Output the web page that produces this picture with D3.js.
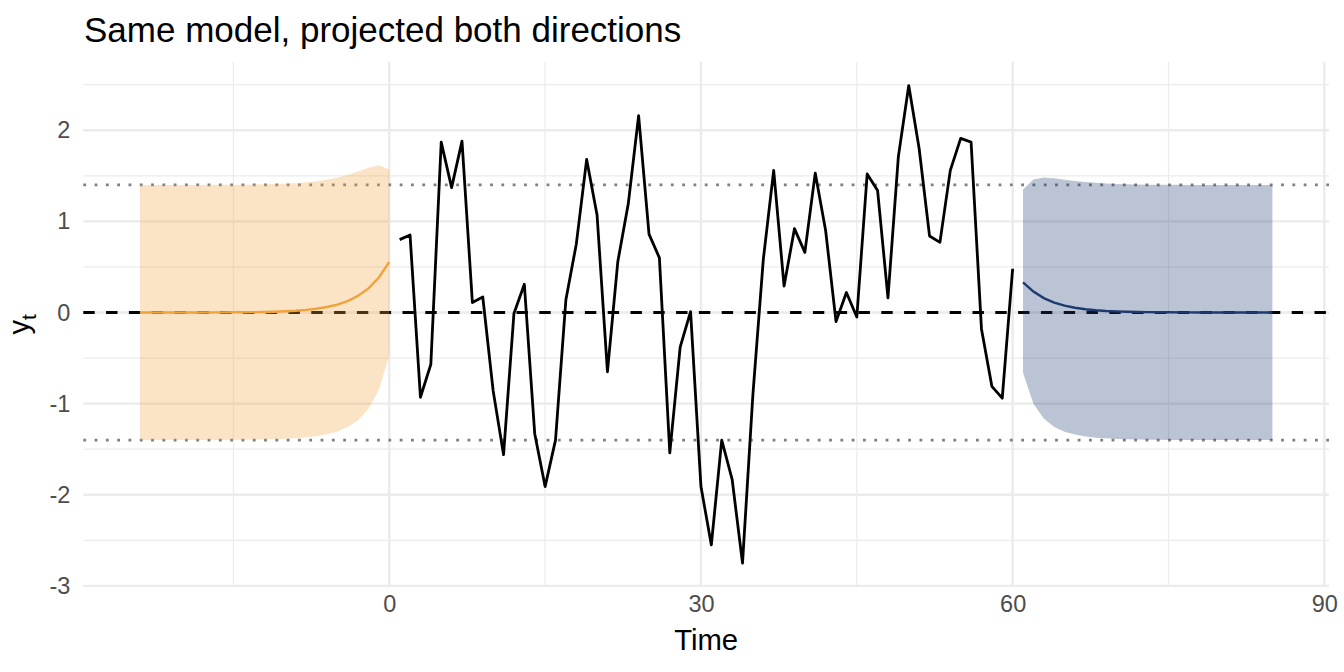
<html>
<head>
<meta charset="utf-8" />
<title>Same model, projected both directions</title>
<script src="https://cdn.jsdelivr.net/npm/d3@7"></script>
<style>
body { margin: 0; background: #ffffff; }
svg text { font-family: "Liberation Sans", Arial, Helvetica, sans-serif; }
</style>
</head>
<body>
<script>

// observed series, t = 1..60
var obsTime = [1,2,3,4,5,6,7,8,9,10,11,12,13,14,15,16,17,18,19,20,
	21,22,23,24,25,26,27,28,29,30,31,32,33,34,35,36,37,38,39,40,
	41,42,43,44,45,46,47,48,49,50,51,52,53,54,55,56,57,58,59,60];
var obsY = [0.80,0.85,-0.93,-0.57,1.87,1.37,1.88,0.11,0.17,-0.86,
	-1.56,-0.01,0.31,-1.33,-1.91,-1.40,0.14,0.75,1.68,1.07,
	-0.65,0.56,1.19,2.16,0.86,0.60,-1.54,-0.38,0.01,-1.91,
	-2.55,-1.40,-1.83,-2.75,-0.90,0.58,1.56,0.29,0.92,0.66,
	1.53,0.90,-0.10,0.22,-0.05,1.52,1.34,0.16,1.71,2.49,
	1.80,0.84,0.77,1.56,1.91,1.87,-0.18,-0.81,-0.94,0.48];

// backward projection, t = -24..0
var backTime = [-24,-23,-22,-21,-20,-19,-18,-17,-16,-15,-14,-13,-12,-11,-10,-9,-8,-7,-6,-5,-4,-3,-2,-1,0];
var backMean = [0,0,0,0,0,0,0,0.001,0.001,0.002,0.003,0.004,0.006,0.009,0.014,0.020,0.029,0.041,0.060,0.087,0.126,0.183,0.265,0.384,0.556];
var backUpper = [1.40,1.40,1.40,1.40,1.40,1.40,1.40,1.401,1.401,1.402,1.403,1.404,1.406,1.409,1.413,1.419,1.428,1.439,1.456,1.479,1.509,1.547,1.587,1.615,1.57];
var backLower = [-1.40,-1.40,-1.40,-1.40,-1.40,-1.40,-1.40,-1.399,-1.398,-1.397,-1.396,-1.394,-1.39,-1.387,-1.384,-1.379,-1.37,-1.357,-1.336,-1.305,-1.257,-1.181,-1.057,-0.847,-0.47];

// forward projection, t = 61..85
var fwdTime = [61,62,63,64,65,66,67,68,69,70,71,72,73,74,75,76,77,78,79,80,81,82,83,84,85];
var fwdMean = [0.331,0.229,0.158,0.109,0.075,0.052,0.036,0.025,0.017,0.012,0.008,0.006,0.004,0.003,0.002,0.001,0.001,0,0,0,0,0,0,0,0];
var fwdUpper = [1.35,1.46,1.48,1.473,1.458,1.444,1.432,1.423,1.416,1.411,1.407,1.405,1.403,1.402,1.401,1.401,1.40,1.40,1.40,1.40,1.40,1.40,1.40,1.40,1.40];
var fwdLower = [-0.66,-1.002,-1.164,-1.255,-1.308,-1.34,-1.36,-1.373,-1.381,-1.387,-1.391,-1.394,-1.396,-1.397,-1.398,-1.399,-1.40,-1.40,-1.40,-1.40,-1.40,-1.40,-1.40,-1.40,-1.40];

var bandLimit = 1.4;
var xTicks = [0,30,60,90];
var xMinor = [-15,15,45,75];
var yTicks = [-3,-2,-1,0,1,2];
var yMinor = [-2.5,-1.5,-0.5,0.5,1.5,2.5];

var W = 1344, H = 672;
var panel = {left: 83.3, right: 1329, top: 61.7, bottom: 587};

var base = d3.select("body").append("svg")
	.attr("width", W).attr("height", H)
	.attr("xmlns", "http://www.w3.org/2000/svg");

var xScale = d3.scaleLinear().domain([-29.45, 90.45]).range([panel.left, panel.right]);
var yScale = d3.scaleLinear().domain([-3.012, 2.752]).range([panel.bottom, panel.top]);

// grid
var grid = base.append("g");
grid.selectAll(".ymin").data(yMinor).enter().append("line")
	.attr("x1", panel.left).attr("x2", panel.right)
	.attr("y1", d => yScale(d)).attr("y2", d => yScale(d))
	.attr("stroke", "#ebebeb").attr("stroke-width", 1.2);
grid.selectAll(".xmin").data(xMinor).enter().append("line")
	.attr("y1", panel.top).attr("y2", panel.bottom)
	.attr("x1", d => xScale(d)).attr("x2", d => xScale(d))
	.attr("stroke", "#ebebeb").attr("stroke-width", 1.2);
grid.selectAll(".ymaj").data(yTicks).enter().append("line")
	.attr("x1", panel.left).attr("x2", panel.right)
	.attr("y1", d => yScale(d)).attr("y2", d => yScale(d))
	.attr("stroke", "#ebebeb").attr("stroke-width", 2.4);
grid.selectAll(".xmaj").data(xTicks).enter().append("line")
	.attr("y1", panel.top).attr("y2", panel.bottom)
	.attr("x1", d => xScale(d)).attr("x2", d => xScale(d))
	.attr("stroke", "#ebebeb").attr("stroke-width", 2.4);

// reference lines
base.selectAll(".dot").data([bandLimit, -bandLimit]).enter().append("line")
	.attr("x1", panel.left).attr("x2", panel.right)
	.attr("y1", d => yScale(d)).attr("y2", d => yScale(d))
	.attr("stroke", "#7f7f7f").attr("stroke-width", 2.8)
	.attr("stroke-dasharray", "2.8 8.5");
base.append("line")
	.attr("x1", panel.left).attr("x2", panel.right)
	.attr("y1", yScale(0)).attr("y2", yScale(0))
	.attr("stroke", "black").attr("stroke-width", 2.8)
	.attr("stroke-dasharray", "11.4 11.4");

// ribbons
var area = d3.area()
	.x(d => xScale(d.t))
	.y0(d => yScale(d.lo))
	.y1(d => yScale(d.hi));
var line = d3.line()
	.x(d => xScale(d.t))
	.y(d => yScale(d.y));

var back = backTime.map((t, i) => ({t: t, y: backMean[i], lo: backLower[i], hi: backUpper[i]}));
var fwd = fwdTime.map((t, i) => ({t: t, y: fwdMean[i], lo: fwdLower[i], hi: fwdUpper[i]}));
var obs = obsTime.map((t, i) => ({t: t, y: obsY[i]}));

base.append("path").datum(back).attr("d", area)
	.attr("fill", "#f1a340").attr("fill-opacity", 0.3);
base.append("path").datum(fwd).attr("d", area)
	.attr("fill", "#1d3a70").attr("fill-opacity", 0.3);

base.append("path").datum(obs).attr("d", line)
	.attr("fill", "none").attr("stroke", "black").attr("stroke-width", 2.8)
	.attr("stroke-linejoin", "round");
base.append("path").datum(back).attr("d", line)
	.attr("fill", "none").attr("stroke", "#f0a23b").attr("stroke-width", 2.4);
base.append("path").datum(fwd).attr("d", line)
	.attr("fill", "none").attr("stroke", "#1d3a70").attr("stroke-width", 2.4);

// axes (text only, like theme_minimal)
var fmt = d => String(d);

var xAxis = base.append("g")
	.attr("transform", `translate(0,${panel.bottom + 8})`)
	.call(d3.axisBottom(xScale).tickValues(xTicks).tickFormat(fmt).tickSize(0).tickPadding(0));
xAxis.select(".domain").remove();
xAxis.selectAll("text").attr("dy", "0.71em")
	.attr("font-size", "23.5px").attr("fill", "#4d4d4d")
	.style("font-family", "Liberation Sans, Arial, sans-serif");

var yAxis = base.append("g")
	.attr("transform", `translate(${panel.left - 13},0)`)
	.call(d3.axisLeft(yScale).tickValues(yTicks).tickFormat(fmt).tickSize(0).tickPadding(0));
yAxis.select(".domain").remove();
yAxis.selectAll("text")
	.attr("font-size", "23.5px").attr("fill", "#4d4d4d")
	.style("font-family", "Liberation Sans, Arial, sans-serif");

// titles
base.append("text")
	.attr("x", 84).attr("y", 42)
	.attr("font-size", "35px").attr("fill", "black")
	.text("Same model, projected both directions");

base.append("text")
	.attr("x", (panel.left + panel.right) / 2).attr("y", 650)
	.attr("text-anchor", "middle")
	.attr("font-size", "29.3px").attr("fill", "black")
	.text("Time");

var ylab = base.append("text")
	.attr("transform", `translate(29,${(panel.top + panel.bottom) / 2}) rotate(-90)`)
	.attr("text-anchor", "middle")
	.attr("font-size", "29.3px").attr("fill", "black");
ylab.append("tspan").text("y");
ylab.append("tspan").attr("dy", 7).attr("font-size", "21px").text("t");

</script>
</body>
</html>
